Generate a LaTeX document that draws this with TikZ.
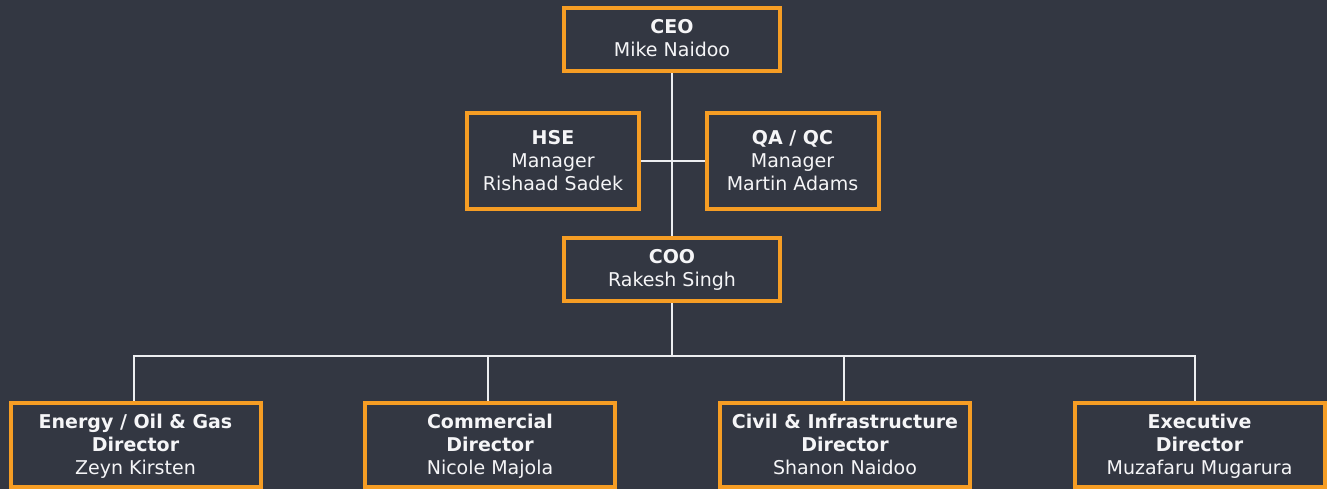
\documentclass[tikz,border=0pt]{standalone}
\usepackage{fontspec}
\setmainfont{DejaVu Sans}
\usepackage{xcolor}
\usetikzlibrary{positioning,calc}
\definecolor{orgbg}{RGB}{51,55,66}
\definecolor{orgorange}{RGB}{246,157,36}
\definecolor{orgline}{RGB}{236,237,240}
\definecolor{orgtext}{RGB}{245,245,247}
\newcommand{\orgtop}{\rule{0pt}{17pt}}
\newcommand{\orgbot}{\rule[-5pt]{0pt}{5pt}}
\tikzset{
  orgbox/.style={draw=orgorange,line width=4pt,fill=orgbg,text=orgtext,align=center,
    inner sep=0pt,font=\fontsize{19}{23}\selectfont},
  topbox/.style={orgbox,minimum width=216pt,minimum height=63pt},
  midbox/.style={orgbox,minimum width=172pt,minimum height=96pt},
  dirbox/.style={orgbox,minimum width=250pt,minimum height=84pt},
  orgwire/.style={draw=orgline,line width=2.5pt}
}

\begin{document}
\begin{tikzpicture}[x=1pt,y=-1pt]
% ---------------- background ----------------
\fill[orgbg] (0,0) rectangle (1327,489);
\useasboundingbox (0,0) rectangle (1327,489);
% ---------------- connectors ----------------
\coordinate (bus) at (672,356);
\draw[orgwire] (672,40) -- (672,269);
\draw[orgwire] (553,161) -- (792,161);
\draw[orgwire] (672,269) -- (bus);
\draw[orgwire] (134,445) |- (bus) -| (1195,445);
\foreach \x in {488,844}{
  \draw[orgwire] (\x,356) -- (\x,445);}
% ---------------- boxes ----------------
\node[topbox] (ceo) at (672,39.5) {\orgtop\textbf{CEO}\\Mike Naidoo\orgbot};
\node[midbox] (hse) at (553,161) {\orgtop\textbf{HSE}\\Manager\\Rishaad Sadek\orgbot};
\node[midbox] (qa) at (792.5,161) {\orgtop\textbf{QA / QC}\\Manager\\Martin Adams\orgbot};
\node[topbox] (coo) at (672,269) {\orgtop\textbf{COO}\\Rakesh Singh\orgbot};
\node[dirbox] (energy) at (135.5,445) {\orgtop\textbf{Energy / Oil \& Gas}\\\textbf{Director}\\Zeyn Kirsten\orgbot};
\node[dirbox] (commercial) at (490,445) {\orgtop\textbf{Commercial}\\\textbf{Director}\\Nicole Majola\orgbot};
\node[dirbox] (civil) at (845,445) {\orgtop\textbf{Civil \& Infrastructure}\\\textbf{Director}\\Shanon Naidoo\orgbot};
\node[dirbox] (exec) at (1199.5,445) {\orgtop\textbf{Executive}\\\textbf{Director}\\Muzafaru Mugarura\orgbot};
\end{tikzpicture}
\end{document}
